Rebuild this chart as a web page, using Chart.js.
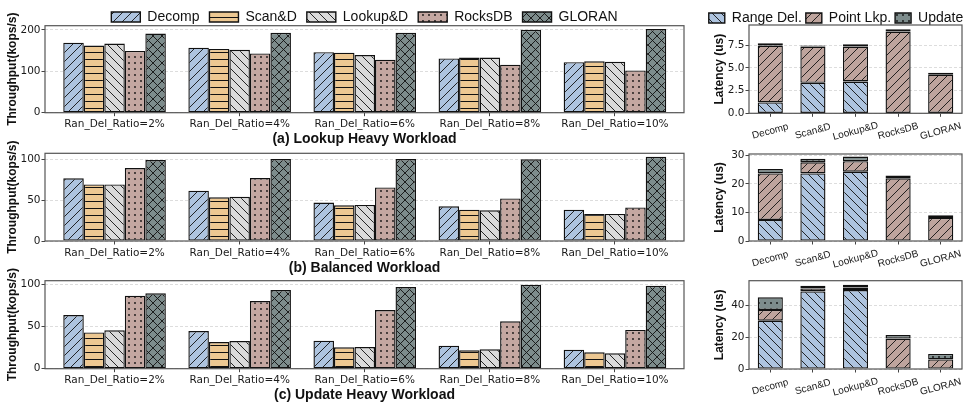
<!DOCTYPE html>
<html>
<head>
<meta charset="utf-8">
<script src="https://cdn.jsdelivr.net/npm/chart.js@4.4.0/dist/chart.umd.min.js"></script>
<style>
  html, body { margin: 0; padding: 0; background: #fff; width: 977px; height: 409px; overflow: hidden; }
  canvas { position: absolute; }
</style>
</head>
<body>
<canvas id="tputA" width="686" height="150" style="left:0;top:0"></canvas>
<canvas id="tputB" width="686" height="150" style="left:0;top:128px"></canvas>
<canvas id="tputC" width="686" height="150" style="left:0;top:258px"></canvas>
<canvas id="latA" width="269" height="150" style="left:708px;top:0"></canvas>
<canvas id="latB" width="269" height="150" style="left:708px;top:128px"></canvas>
<canvas id="latC" width="269" height="150" style="left:708px;top:258px"></canvas>
<script>
// categories
const ratios = ['Ran_Del_Ratio=2%', 'Ran_Del_Ratio=4%', 'Ran_Del_Ratio=6%', 'Ran_Del_Ratio=8%', 'Ran_Del_Ratio=10%'];
const systems = ['Decomp', 'Scan&D', 'Lookup&D', 'RocksDB', 'GLORAN'];
const parts = ['Range Del.', 'Point Lkp.', 'Update'];

// (a) lookup heavy, throughput kops/s
const decompA = [169, 157, 146, 131, 122];
const scanA   = [162, 154, 145, 133, 124];
const lookupA = [167, 152, 139, 133, 123];
const rocksA  = [149, 143, 128, 116, 102];
const gloranA = [191, 193, 193, 200, 202];
// (b) balanced
const decompB = [76.5, 61.4, 47, 42.3, 38.2];
const scanB   = [69, 53.3, 43.5, 38.2, 33];
const lookupB = [69, 54, 44, 37.4, 33];
const rocksB  = [89, 76.8, 65.4, 52, 41];
const gloranB = [98.8, 100, 100, 99.6, 102.8];
// (c) update heavy
const decompC = [63.6, 44.7, 33.2, 27.3, 22.5];
const scanC   = [43, 31.6, 25.3, 21.8, 19.4];
const lookupC = [45.5, 32.8, 25.7, 23, 18.2];
const rocksC  = [86.5, 80.2, 69.5, 56.1, 45.9];
const gloranC = [89.3, 93.2, 96.8, 99.5, 98.3];

// latency breakdown (us), per system
const rangeDelA = [1.2, 3.35, 3.5, 0, 0];
const pointLkpA = [6.25, 4.0, 3.85, 9.0, 4.25];
const updateA   = [0.25, 0.12, 0.25, 0.25, 0.2];
const rangeDelB = [7.4, 23.7, 24.3, 0, 0];
const pointLkpB = [16.3, 3.9, 3.7, 22.0, 8.1];
const updateB   = [1.5, 1.2, 1.6, 1.0, 0.9];
const rangeDelC = [30.2, 48.5, 49.4, 0, 0];
const pointLkpC = [6.7, 1.9, 1.6, 19.0, 6.0];
const updateC   = [7.9, 1.6, 1.7, 2.2, 3.4];

// y tick labels
const tputTicksA = [0, 100, 200];
const tputTicksB = [0, 50, 100];
const tputTicksC = [0, 50, 100];
const latTicksA = [0, 2.5, 5, 7.5];
const latTicksB = [0, 10, 20, 30];
const latTicksC = [0, 20, 40];

const SANS = "'Liberation Sans', Arial, sans-serif";
const INK = '#111';
Chart.defaults.font.family = "'DejaVu Sans', sans-serif";
Chart.defaults.font.size = 10.5;
Chart.defaults.color = '#1a1a1a';
Chart.defaults.animation = false;

function pattern(bg, kind, s) {
  const c = document.createElement('canvas');
  c.width = s; c.height = s;
  const g = c.getContext('2d');
  g.fillStyle = bg; g.fillRect(0, 0, s, s);
  g.strokeStyle = INK; g.fillStyle = INK; g.lineWidth = 0.9;
  const ln = (x1, y1, x2, y2) => { g.beginPath(); g.moveTo(x1, y1); g.lineTo(x2, y2); g.stroke(); };
  if (kind === '/' || kind === 'x') { ln(-1, s + 1, s + 1, -1); ln(-1, 1, 1, -1); ln(s - 1, s + 1, s + 1, s - 1); }
  if (kind === '\\' || kind === 'x') { ln(-1, -1, s + 1, s + 1); ln(s - 1, -1, s + 1, 1); ln(-1, s - 1, 1, s + 1); }
  if (kind === '-') { g.lineWidth = 1; ln(0, s / 2, s, s / 2); }
  if (kind === '.') { g.beginPath(); g.arc(s / 2, s / 2, 0.9, 0, Math.PI * 2); g.fill(); }
  return g.createPattern(c, 'repeat');
}

const sysFill = [
  pattern('#aec4df', '/', 9),
  pattern('#edc892', '-', 7),
  pattern('#dadada', '\\', 9),
  pattern('#c4a7a1', '.', 6),
  pattern('#7d8c8c', 'x', 9)
];
const partFill = [
  pattern('#aec4df', '\\', 9),
  pattern('#bea49d', '/', 9),
  pattern('#7d8c8c', '.', 6)
];

// box around the plot area
const frame = {
  id: 'frame',
  afterDraw(chart) {
    const { ctx, chartArea: a } = chart;
    ctx.save();
    ctx.strokeStyle = '#555';
    ctx.lineWidth = 1.2;
    ctx.strokeRect(a.left, a.top, a.right - a.left, a.bottom - a.top);
    ctx.restore();
  }
};

// slanted, centred category labels
const slantLabels = {
  id: 'slantLabels',
  afterDraw(chart, args, opts) {
    if (!opts.labels) return;
    const { ctx, chartArea: a, scales: { x } } = chart;
    ctx.save();
    ctx.font = '10px ' + SANS;
    ctx.fillStyle = '#1a1a1a';
    ctx.textAlign = 'center';
    ctx.textBaseline = 'middle';
    opts.labels.forEach((t, i) => {
      ctx.save();
      ctx.translate(x.getPixelForTick(i), a.bottom + opts.gap);
      ctx.rotate(-opts.angle * Math.PI / 180);
      ctx.fillText(t, 0, 0);
      ctx.restore();
    });
    ctx.restore();
  }
};

// fixed legend height, kept on one row; optional wider span for the row
const legendHeight = (h, extra, span) => ({
  id: 'legendHeight',
  afterInit(chart) {
    const lg = chart.legend;
    const fit = lg.fit;
    lg.fit = function () {
      const mw = this.maxWidth;
      this.maxWidth = mw + extra;
      fit.call(this);
      this.maxWidth = mw;
      this.height = h;
    };
  },
  afterLayout(chart) {
    if (!span) return;
    chart.legend.left = span[0];
    chart.legend.right = span[1];
  }
});

function yScale(max, ticks, title, width, titlePad, fmt) {
  return {
    min: 0, max: max,
    afterBuildTicks: s => { s.ticks = ticks.map(v => ({ value: v })); },
    afterFit: s => { s.width = width; },
    ticks: { padding: 1, callback: fmt || (v => v) },
    grid: { color: '#d4d4d4', lineWidth: 0.8, tickColor: '#444', tickLength: 3.5, tickWidth: 1, tickBorderDash: [] },
    border: { display: false, dash: [3, 2] },
    title: { display: true, text: title, color: INK, font: { family: SANS, weight: 'bold', size: 12 }, padding: { top: titlePad, bottom: 0 } }
  };
}

function tputChart(id, series, o) {
  const legendOn = !!o.legend;
  return new Chart(document.getElementById(id), {
    type: 'bar',
    data: {
      datasets: systems.map((name, k) => ({
        label: name,
        data: series[k].map((v, i) => ({ x: i, y: v })),
        backgroundColor: sysFill[k],
        borderColor: INK,
        borderWidth: 1.4,
        borderSkipped: false,
        categoryPercentage: 0.82,
        barPercentage: 1
      }))
    },
    options: {
      responsive: false,
      layout: { padding: { top: o.padTop, right: 2, bottom: 0, left: 0 } },
      plugins: {
        tooltip: { enabled: false },
        legend: {
          display: legendOn, position: 'top', fullSize: false,
          labels: { color: INK, font: { family: SANS, size: 14 }, boxWidth: 29, boxHeight: 10, padding: 10 }
        }
      },
      scales: {
        x: {
          type: 'linear', offset: false, min: -0.556, max: 4.552,
          afterBuildTicks: s => { s.ticks = ratios.map((_, i) => ({ value: i })); },
          afterFit: s => { s.height = o.xh; },
          ticks: { callback: v => ratios[v], padding: 2, maxRotation: 0, autoSkip: false },
          grid: { offset: false, drawOnChartArea: false, tickLength: 3.5, tickColor: '#444', tickWidth: 1 },
          border: { display: false },
          title: { display: true, text: o.title, color: INK, font: { family: SANS, weight: 'bold', size: 14 }, padding: { top: 0, bottom: o.titlePad } }
        },
        y: yScale(o.max, o.ticks, 'Throughput(kops/s)', 45, 5)
      }
    },
    plugins: legendOn ? [frame, legendHeight(o.legend, 0)] : [frame]
  });
}

function latChart(id, series, o) {
  const legendOn = !!o.legend;
  return new Chart(document.getElementById(id), {
    type: 'bar',
    data: {
      labels: systems,
      datasets: parts.map((name, k) => ({
        label: name,
        data: series[k],
        backgroundColor: partFill[k],
        borderColor: INK,
        borderWidth: 1.4,
        borderSkipped: false,
        categoryPercentage: 1,
        barPercentage: 0.59
      }))
    },
    options: {
      responsive: false,
      layout: { padding: { top: o.padTop, right: 15, bottom: 0, left: 0 } },
      plugins: {
        tooltip: { enabled: false },
        legend: {
          display: legendOn, position: 'top',
          labels: { color: INK, font: { family: SANS, size: 14 }, boxWidth: 16, boxHeight: 10, padding: 4 }
        },
        slantLabels: { labels: systems, gap: 18, angle: 15 }
      },
      scales: {
        x: {
          stacked: true,
          afterFit: s => { s.height = o.xh; },
          ticks: { display: false },
          grid: { offset: false, drawOnChartArea: false, tickLength: 3.5, tickColor: '#444', tickWidth: 1 },
          border: { display: false }
        },
        y: Object.assign(yScale(o.max, o.ticks, 'Latency (us)', 41, 4, o.fmt), { stacked: true })
      }
    },
    plugins: legendOn ? [frame, slantLabels, legendHeight(o.legend, 120, [-5, 261])] : [frame, slantLabels]
  });
}

tputChart('tputA', [decompA, scanA, lookupA, rocksA, gloranA],
  { legend: 25.7, padTop: 0, xh: 37.3, titlePad: 2.9, max: 210, ticks: tputTicksA, title: '(a) Lookup Heavy Workload' });
tputChart('tputB', [decompB, scanB, lookupB, rocksB, gloranB],
  { padTop: 25.3, xh: 37, titlePad: 1.9, max: 107, ticks: tputTicksB, title: '(b) Balanced Workload' });
tputChart('tputC', [decompC, scanC, lookupC, rocksC, gloranC],
  { padTop: 22.7, xh: 39.3, titlePad: 4.9, max: 104.3, ticks: tputTicksC, title: '(c) Update Heavy Workload' });

latChart('latA', [rangeDelA, pointLkpA, updateA],
  { legend: 18, padTop: 7, xh: 36.7, max: 9.72, ticks: latTicksA, fmt: v => v.toFixed(1) });
latChart('latB', [rangeDelB, pointLkpB, updateB],
  { padTop: 26, xh: 37, max: 30.5, ticks: latTicksB });
latChart('latC', [rangeDelC, pointLkpC, updateC],
  { padTop: 22.7, xh: 39, max: 55.2, ticks: latTicksC });
</script>
</body>
</html>
